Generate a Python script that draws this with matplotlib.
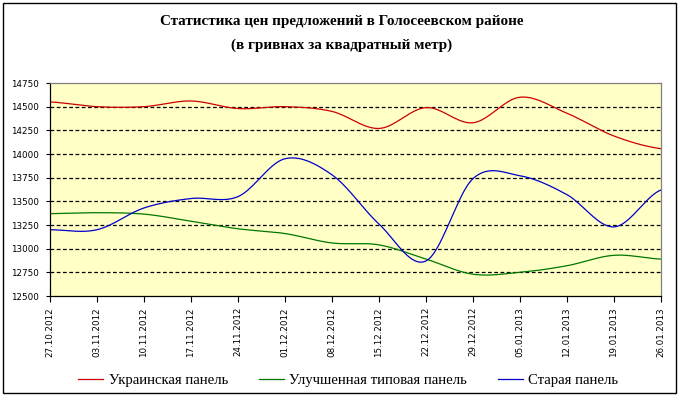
import matplotlib.pyplot as plt
import numpy as np
from matplotlib.patches import Rectangle

dates = ['27.10.2012', '03.11.2012', '10.11.2012', '17.11.2012', '24.11.2012',
         '01.12.2012', '08.12.2012', '15.12.2012', '22.12.2012', '29.12.2012',
         '05.01.2013', '12.01.2013', '19.01.2013', '26.01.2013']

ukr_panel = [14550, 14500, 14500, 14560, 14480, 14500, 14450, 14270,
             14490, 14330, 14600, 14430, 14190, 14056]
improved_panel = [13370, 13380, 13365, 13290, 13210, 13160, 13060, 13040,
                  12890, 12730, 12750, 12820, 12930, 12890]
old_panel = [13200, 13200, 13430, 13530, 13550, 13950, 13780, 13260,
             12870, 13740, 13770, 13570, 13230, 13620]

series_names = ['Украинская панель', 'Улучшенная типовая панель', 'Старая панель']
series_colors = ['#cc0000', '#007700', '#0000cc']

y_ticks = [12500, 12750, 13000, 13250, 13500, 13750, 14000, 14250, 14500, 14750]


def smooth(values, steps=20):
    # catmull-rom through the points, like excel's smoothed line
    v = np.asarray(values, dtype=float)
    p = np.concatenate([[v[0]], v, [v[-1]]])
    xs, ys = [], []
    for i in range(len(v) - 1):
        p0, p1, p2, p3 = p[i], p[i + 1], p[i + 2], p[i + 3]
        t = np.linspace(0, 1, steps, endpoint=False)
        y = 0.5 * ((2 * p1) + (-p0 + p2) * t
                   + (2 * p0 - 5 * p1 + 4 * p2 - p3) * t ** 2
                   + (-p0 + 3 * p1 - 3 * p2 + p3) * t ** 3)
        xs.extend(i + t)
        ys.extend(y)
    xs.append(len(v) - 1)
    ys.append(v[-1])
    return np.array(xs), np.array(ys)


def main():
    fig = plt.figure(figsize=(6.83, 3.96), dpi=100)
    fig.patches.append(Rectangle((0.004, 0.008), 0.986, 0.985, transform=fig.transFigure,
                                 fill=False, edgecolor='black', linewidth=1.0))
    ax = fig.add_axes([50 / 683, 1 - 296 / 396, 611 / 683, 213 / 396])
    ax.set_facecolor('#ffffc6')

    for name, values, color in zip(series_names, [ukr_panel, improved_panel, old_panel], series_colors):
        xs, ys = smooth(values)
        ax.plot(xs, ys, color=color, linewidth=0.9, label=name)

    ax.set_xlim(0, len(dates) - 1)
    ax.set_ylim(y_ticks[0], y_ticks[-1])
    ax.set_yticks(y_ticks)
    ax.set_yticklabels([str(t) for t in y_ticks], fontsize=6.3, family='DejaVu Sans')
    ax.set_xticks(range(len(dates)))
    ax.set_xticklabels(dates, rotation=90, fontsize=6.3, family='DejaVu Sans')
    ax.tick_params(axis='x', direction='out', length=4, width=0.8, pad=4)
    ax.tick_params(axis='y', direction='out', length=3, width=0.8, pad=5)
    for t in y_ticks[1:-1]:
        ax.axhline(t, color='black', linewidth=0.9, linestyle=(0, (3, 2)), zorder=1)
    for side, sp in ax.spines.items():
        sp.set_color('#808080' if side in ('top', 'right') else 'black')
        sp.set_linewidth(0.9)

    fig.text(0.5, 1 - 22 / 396, 'Статистика цен предложений в Голосеевском районе',
             ha='center', va='center', fontsize=10.9, fontweight='bold', family='Liberation Serif')
    fig.text(0.5, 1 - 45 / 396, '(в гривнах за квадратный метр)',
             ha='center', va='center', fontsize=10.9, fontweight='bold', family='Liberation Serif')

    fig.legend(loc='center', bbox_to_anchor=(0.51, 1 - 380 / 396), ncol=3, frameon=False,
               prop={'family': 'Liberation Serif', 'size': 10.6}, handlelength=1.7,
               columnspacing=2.1, handletextpad=0.35)

    fig.savefig('out.png', dpi=100)


if __name__ == '__main__':
    main()
